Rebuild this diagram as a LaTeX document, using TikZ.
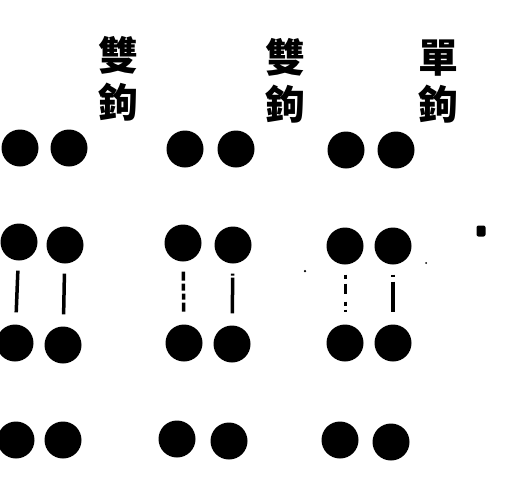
\documentclass[tikz,border=0pt]{standalone}
\usepackage{fontspec}
\newfontfamily\cjk{Noto Sans CJK TC}
\begin{document}
\begin{tikzpicture}[x=1pt,y=-1pt,
  dot/.style={circle,fill=black,inner sep=0pt,minimum size=37pt},
  lab/.style={font=\cjk\bfseries\fontsize{40}{47}\selectfont,align=center,inner sep=0pt},
  bond/.style={line width=3.5pt,shorten <=10pt,shorten >=12pt},
  speck/.style={fill=black,inner sep=0pt}]
\useasboundingbox (0,0) rectangle (516,482);
% labels
\node[lab] (l1) at (118,79) {雙\\鉤};
\node[lab] (l2) at (285,81) {雙\\鉤};
\node[lab] (l3) at (438,82) {單\\鉤};
% row 1
\node[dot] (a1) at (20,148) {};
\node[dot] (a2) at (69,148) {};
\node[dot] (a3) at (185,149) {};
\node[dot] (a4) at (236,149) {};
\node[dot] (a5) at (346,150) {};
\node[dot] (a6) at (396,150) {};
% row 2
\node[dot] (b1) at (19,242) {};
\node[dot] (b2) at (65,245) {};
\node[dot] (b3) at (183,243) {};
\node[dot] (b4) at (233,245) {};
\node[dot] (b5) at (345,246) {};
\node[dot] (b6) at (393,246) {};
% row 3
\node[dot] (c1) at (15,343) {};
\node[dot] (c2) at (63,345) {};
\node[dot] (c3) at (184,343) {};
\node[dot] (c4) at (232,344) {};
\node[dot] (c5) at (345,343) {};
\node[dot] (c6) at (393,343) {};
% row 4
\node[dot] (e1) at (16,440) {};
\node[dot] (e2) at (63,440) {};
\node[dot] (e3) at (177,439) {};
\node[dot] (e4) at (229,441) {};
\node[dot] (e5) at (340,440) {};
\node[dot] (e6) at (391,442) {};
% bonds
\draw[bond] (b1) -- (c1);
\draw[bond] (b2) -- (c2);
\draw[bond,dash pattern=on 9pt off 3pt on 7pt off 3pt on 6pt off 3pt] (b3) -- (c3);
\draw[bond,dash pattern=on 2pt off 2pt on 50pt] (b4) -- (c4);
\draw[bond,line width=3pt,dash pattern=on 4pt off 5pt on 10pt off 8pt on 4pt] (b5) -- (c5);
\draw[bond,dash pattern=on 2pt off 5pt on 50pt] (b6) -- (c6);
% specks
\node[speck,minimum width=9pt,minimum height=11pt,rounded corners=2pt] (s1) at (481,231) {};
\node[speck,circle,minimum size=2.5pt] (s2) at (305,271) {};
\node[speck,circle,minimum size=2pt] (s3) at (426,263) {};
\end{tikzpicture}
\end{document}
